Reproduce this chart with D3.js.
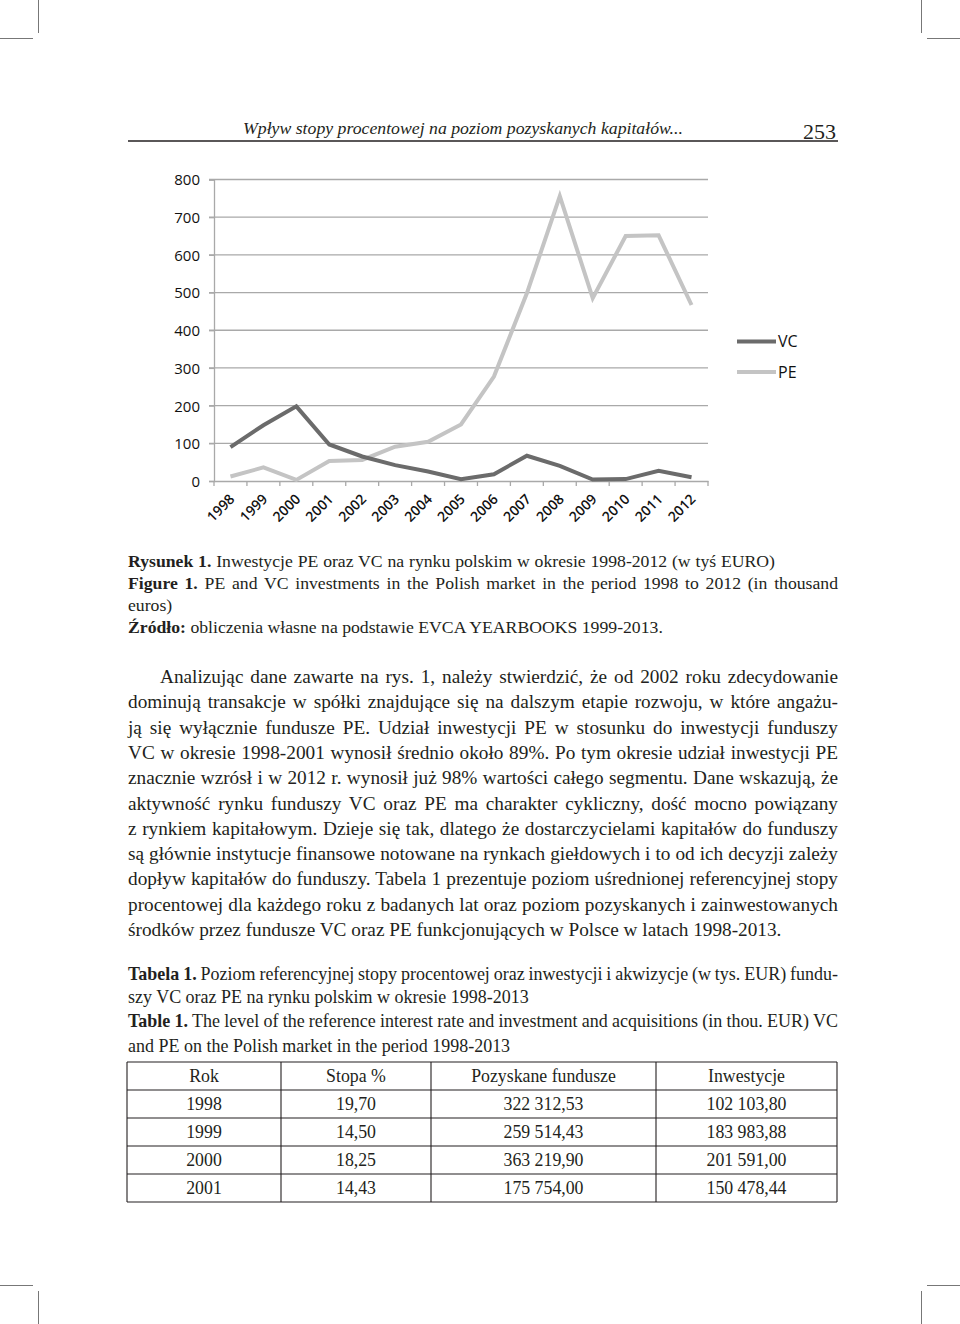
<!DOCTYPE html>
<html><head><meta charset="utf-8">
<script src="https://cdn.jsdelivr.net/npm/d3@7"></script>
<style>
html,body{margin:0;padding:0;background:#fff;}
svg{display:block;}
</style></head>
<body>
<script>
// ---------- DATA ----------
const years = ['1998','1999','2000','2001','2002','2003','2004','2005','2006','2007','2008','2009','2010','2011','2012'];
const vcValues = [90,148,198,97,65,42,25,5,18,67,40,4,5,27,10];
const peValues = [12,36,3,53,56,91,104,150,277,498,756,485,650,652,467];
const yTicks = [0,100,200,300,400,500,600,700,800];
const seriesNames = ['VC','PE'];

const headerTitle = 'Wpływ stopy procentowej na poziom pozyskanych kapitałów...';
const pageNumber = '253';

const captionLines = [
  [['Rysunek 1.',true],[' Inwestycje PE oraz VC na rynku polskim w okresie 1998-2012 (w tyś EURO)',false]],
  [['Figure 1.',true],[' PE and VC investments in the Polish market in the period 1998 to 2012 (in thousand',false]],
  [['euros)',false]],
  [['Źródło:',true],[' obliczenia własne na podstawie EVCA YEARBOOKS 1999-2013.',false]]
];
const bodyLines = [
  'Analizując dane zawarte na rys. 1, należy stwierdzić, że od 2002 roku zdecydowanie',
  'dominują transakcje w spółki znajdujące się na dalszym etapie rozwoju, w które angażu-',
  'ją się wyłącznie fundusze PE. Udział inwestycji PE w stosunku do inwestycji funduszy',
  'VC w okresie 1998-2001 wynosił średnio około 89%. Po tym okresie udział inwestycji PE',
  'znacznie wzrósł i w 2012 r. wynosił już 98% wartości całego segmentu. Dane wskazują, że',
  'aktywność rynku funduszy VC oraz PE ma charakter cykliczny, dość mocno powiązany',
  'z rynkiem kapitałowym. Dzieje się tak, dlatego że dostarczycielami kapitałów do funduszy',
  'są głównie instytucje finansowe notowane na rynkach giełdowych i to od ich decyzji zależy',
  'dopływ kapitałów do funduszy. Tabela 1 prezentuje poziom uśrednionej referencyjnej stopy',
  'procentowej dla każdego roku z badanych lat oraz poziom pozyskanych i zainwestowanych',
  'środków przez fundusze VC oraz PE funkcjonujących w Polsce w latach 1998-2013.'
];
const tableCaptionLines = [
  [['Tabela 1.',true],[' Poziom referencyjnej stopy procentowej oraz inwestycji i akwizycje (w tys. EUR) fundu-',false]],
  [['szy VC oraz PE na rynku polskim w okresie 1998-2013',false]],
  [['Table 1.',true],[' The level of the reference interest rate and investment and acquisitions (in thou. EUR) VC',false]],
  [['and PE on the Polish market in the period 1998-2013',false]]
];
const tableHeader = ['Rok','Stopa %','Pozyskane fundusze','Inwestycje'];
const tableRok = ['1998','1999','2000','2001'];
const tableStopa = ['19,70','14,50','18,25','14,43'];
const tablePozyskane = ['322 312,53','259 514,43','363 219,90','175 754,00'];
const tableInwestycje = ['102 103,80','183 983,88','201 591,00','150 478,44'];

// ---------- LAYOUT ----------
const W = 960, H = 1324;
const svg = d3.select('body').append('svg').attr('width', W).attr('height', H);
const SERIF = '"Liberation Serif", "DejaVu Serif", serif';
const SANS = '"Open Sans", "Liberation Sans", sans-serif';
const INK = '#231f20';

// crop marks
const marks = svg.append('g').attr('stroke','#777').attr('stroke-width',1);
[[38.5,0,38.5,33],[0,38.5,33,38.5],[921.5,0,921.5,33],[927,38.5,960,38.5],
 [38.5,1291,38.5,1324],[0,1285.5,33,1285.5],[921.5,1291,921.5,1324],[927,1285.5,960,1285.5]]
 .forEach(d=>marks.append('line').attr('x1',d[0]).attr('y1',d[1]).attr('x2',d[2]).attr('y2',d[3]));

function makeText(x, y, parts, size, italic){
  const t = svg.append('text').attr('x', x).attr('y', y)
    .attr('font-family', SERIF).attr('font-size', size).attr('fill', INK)
    .attr('font-style', italic ? 'italic' : 'normal');
  parts.forEach(p => t.append('tspan').attr('font-weight', p[1] ? 'bold' : 'normal').text(p[0]));
  return t;
}
// font size so that a sample line has the given natural width
function fitSize(parts, width, italic){
  const t = makeText(0, -100, parts, 20, italic);
  const len = t.node().getComputedTextLength();
  t.remove();
  return 20 * width / len;
}
// justified text line
function textLine(x, y, parts, size, target, italic){
  const t = makeText(x, y, parts, size, italic);
  if (target != null) {
    const len = t.node().getComputedTextLength();
    const full = parts.map(p=>p[0]).join('');
    const spaces = (full.match(/ /g) || []).length;
    if (spaces > 0) {
      let ws = (target - x - len) / spaces;
      ws = Math.max(-1.5, Math.min(10, ws));
      t.attr('word-spacing', ws);
    }
  }
  return t;
}

// header
const headSize = fitSize([[headerTitle,false]], 440, true);
textLine(243, 134, [[headerTitle,false]], headSize, null, true);
svg.append('text').attr('x', 803).attr('y', 139).attr('font-family', SERIF)
  .attr('font-size', 22).attr('fill', INK).text(pageNumber);
svg.append('line').attr('x1',128).attr('x2',838).attr('y1',141).attr('y2',141)
  .attr('stroke', INK).attr('stroke-width',1.6);

// ---------- CHART ----------
const x = d3.scaleBand().domain(years).range([214, 708]);
const y = d3.scaleLinear().domain([0, 800]).range([481, 179.5]);
const cx = d => x(d) + x.bandwidth()/2;

const gridCol = '#a9a9a9';
svg.append('g').selectAll('line').data(yTicks.filter(v=>v>0)).join('line')
  .attr('x1', 209).attr('x2', 708).attr('y1', d=>y(d)).attr('y2', d=>y(d))
  .attr('stroke', gridCol).attr('stroke-width', 1.3);

// y axis
const yAxis = svg.append('g').attr('transform','translate(214,0)')
  .call(d3.axisLeft(y).tickValues(yTicks).tickSize(5).tickFormat(d3.format('d')));
yAxis.select('.domain').attr('stroke', gridCol).attr('stroke-width',1.3);
yAxis.selectAll('.tick line').attr('stroke', gridCol).attr('stroke-width',1.3);
yAxis.selectAll('.tick text').attr('font-family', SANS).attr('font-size', 15)
  .attr('fill','#111').attr('x', -14).attr('dy','0.36em');

// x axis
const xAxis = svg.append('g').attr('transform','translate(0,481)')
  .call(d3.axisBottom(x).tickSize(0).tickFormat(''));
xAxis.select('.domain').attr('stroke', gridCol).attr('stroke-width',1.3);
const bounds = years.map(d=>x(d)).concat([x(years[years.length-1]) + x.bandwidth()]);
svg.append('g').selectAll('line').data(bounds).join('line')
  .attr('x1', d=>d).attr('x2', d=>d).attr('y1', 481).attr('y2', 486)
  .attr('stroke', gridCol).attr('stroke-width', 1.3);
svg.append('g').selectAll('text').data(years).join('text')
  .attr('transform', d=>`translate(${cx(d)+5},500) rotate(-45)`)
  .attr('text-anchor','end').attr('font-family', SANS).attr('font-size', 14)
  .attr('font-weight', 600).attr('fill','#111').text(d=>d);

// lines
const colors = {VC:'#6b6b6b', PE:'#c4c4c4'};
const lineGen = vals => d3.line().x((d,i)=>cx(years[i])).y(d=>y(d))(vals);
svg.append('path').attr('d', lineGen(peValues)).attr('fill','none')
  .attr('stroke', colors.PE).attr('stroke-width', 4);
svg.append('path').attr('d', lineGen(vcValues)).attr('fill','none')
  .attr('stroke', colors.VC).attr('stroke-width', 4);

// legend
const legY = {VC: 341.5, PE: 372};
seriesNames.forEach(n=>{
  svg.append('line').attr('x1',737).attr('x2',776).attr('y1',legY[n]).attr('y2',legY[n])
    .attr('stroke', colors[n]).attr('stroke-width',4);
  svg.append('text').attr('x',778).attr('y',legY[n]).attr('dy','0.36em')
    .attr('font-family', SANS).attr('font-size',16).attr('fill','#111').text(n);
});

// ---------- CAPTION ----------
const capSize = fitSize(captionLines[3], 663 - 128, false);
const capTargets = [775, 838, null, null];
const capY = [567, 589, 611, 633];
captionLines.forEach((p,i)=>textLine(128, capY[i], p, capSize, capTargets[i], false));

// ---------- BODY ----------
const bodySize = fitSize([[bodyLines[bodyLines.length-1],false]], 782 - 128, false);
bodyLines.forEach((s,i)=>{
  const bx = i===0 ? 160 : 128;
  const target = i===bodyLines.length-1 ? null : 838;
  textLine(bx, 683 + i*25.3, [[s,false]], bodySize, target, false);
});

// ---------- TABLE CAPTION ----------
const tcSize = fitSize(tableCaptionLines[1], 529 - 128, false);
const tcTargets = [838, null, 838, null];
const tcY = [980, 1003, 1027, 1052];
tableCaptionLines.forEach((p,i)=>textLine(128, tcY[i], p, tcSize, tcTargets[i], false));

// ---------- TABLE ----------
const colX = [127, 281, 431, 656, 837];
const rowTop = 1062, rowH = 28;
const rows = [tableHeader].concat(tableRok.map((r,i)=>[r, tableStopa[i], tablePozyskane[i], tableInwestycje[i]]));
const tb = svg.append('g');
d3.range(rows.length+1).forEach(i=>tb.append('line').attr('x1',colX[0]).attr('x2',colX[4])
  .attr('y1',rowTop+i*rowH).attr('y2',rowTop+i*rowH).attr('stroke', INK).attr('stroke-width',1.1));
colX.forEach(cxv=>tb.append('line').attr('x1',cxv).attr('x2',cxv)
  .attr('y1',rowTop).attr('y2',rowTop+rows.length*rowH).attr('stroke', INK).attr('stroke-width',1.1));
rows.forEach((r,ri)=>r.forEach((c,ci)=>{
  tb.append('text').attr('x',(colX[ci]+colX[ci+1])/2).attr('y',rowTop+ri*rowH+20)
    .attr('text-anchor','middle').attr('font-family',SERIF).attr('font-size',17.8)
    .attr('fill', INK).text(c);
}));
</script>
</body></html>
